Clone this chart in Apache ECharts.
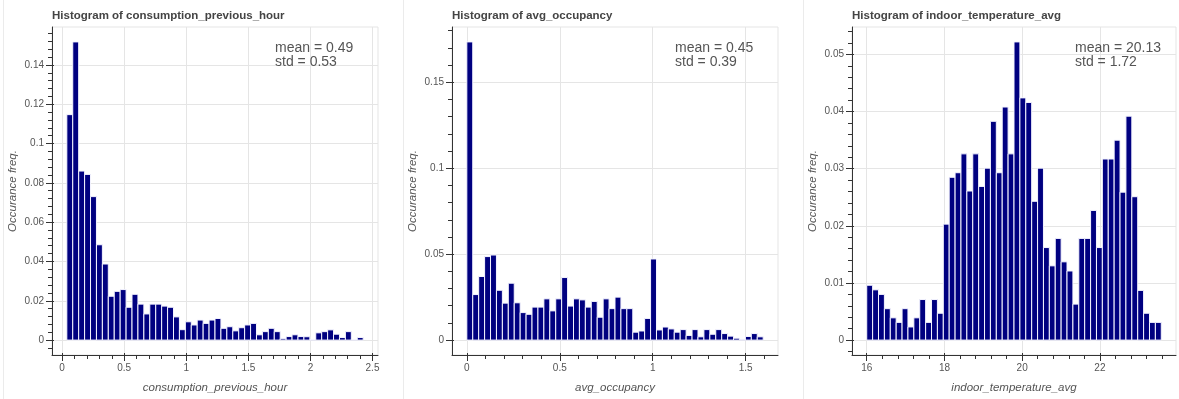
<!DOCTYPE html>
<html>
<head>
<meta charset="utf-8">
<script src="https://cdn.jsdelivr.net/npm/echarts@6/dist/echarts.min.js"></script>
<style>
  html, body { margin: 0; background: #fff; }
  #chart { width: 1179px; height: 399px; }
</style>
</head>
<body>
<div id="chart"></div>
<script>
// histogram heights (fraction of rows), 50 bins per column
const consumptionFreq = [0.1147, 0.1517, 0.086, 0.0843, 0.073, 0.0485, 0.0387, 0.0223, 0.0248, 0.0257,
  0.0167, 0.0233, 0.0183, 0.0133, 0.0183, 0.0183, 0.0173, 0.0167, 0.0118, 0.0053,
  0.0093, 0.0077, 0.0102, 0.0085, 0.0102, 0.011, 0.006, 0.0068, 0.0047, 0.0063,
  0.0077, 0.0085, 0.0027, 0.0043, 0.006, 0.0043, 0.0007, 0.0018, 0.0027, 0.0018,
  0.0017, 0.0003, 0.0037, 0.0043, 0.0052, 0.003, 0.0013, 0.0043, 0.0003, 0.0013];
const occupancyFreq = [0.1735, 0.0265, 0.037, 0.0486, 0.0495, 0.029, 0.0215, 0.0331, 0.0217, 0.016,
  0.015, 0.0192, 0.0192, 0.024, 0.017, 0.024, 0.0364, 0.0198, 0.024, 0.0234,
  0.0192, 0.0225, 0.0133, 0.024, 0.0183, 0.025, 0.0183, 0.0183, 0.0046, 0.0053,
  0.0126, 0.0472, 0.0059, 0.0076, 0.0065, 0.0046, 0.0061, 0.0027, 0.0061, 0.0019,
  0.0061, 0.0034, 0.0061, 0.0038, 0.0023, 0.0011, 0.0004, 0.0021, 0.0038, 0.0019];
const temperatureFreq = [0.0096, 0.0088, 0.008, 0.0055, 0.0039, 0.0031, 0.0055, 0.0023, 0.0039, 0.0071,
  0.0031, 0.0071, 0.0047, 0.0203, 0.0285, 0.0293, 0.0326, 0.0261, 0.0326, 0.0269,
  0.0301, 0.0383, 0.0293, 0.0408, 0.0326, 0.0522, 0.0424, 0.0416, 0.0243, 0.0301,
  0.0162, 0.013, 0.0178, 0.0137, 0.0121, 0.0063, 0.0178, 0.0178, 0.0227, 0.0162,
  0.0317, 0.0317, 0.035, 0.0259, 0.0392, 0.0251, 0.0087, 0.0047, 0.0031, 0.0031];

// left edge of first bin, right edge of last bin
const consumptionBins = [0.038, 2.425];
const occupancyBins = [0, 1.594];
const temperatureBins = [16, 23.58];

const consumptionXTicks = [0, 0.5, 1, 1.5, 2, 2.5];
const consumptionYTicks = [0, 0.02, 0.04, 0.06, 0.08, 0.1, 0.12, 0.14];
const occupancyXTicks = [0, 0.5, 1, 1.5];
const occupancyYTicks = [0, 0.05, 0.1, 0.15];
const temperatureXTicks = [16, 18, 20, 22];
const temperatureYTicks = [0, 0.01, 0.02, 0.03, 0.04, 0.05];

const consumptionStats = ['0.49', '0.53'];
const occupancyStats = ['0.45', '0.39'];
const temperatureStats = ['20.13', '1.72'];

const FONT = 'Liberation Sans, Arial, Helvetica, sans-serif';
const INK = '#333';

const panels = [
  { name: 'consumption_previous_hour', freq: consumptionFreq, bins: consumptionBins,
    xt: consumptionXTicks, yt: consumptionYTicks, xStep: 0.1, yStep: 0.004, stats: consumptionStats, left: 52, width: 326 },
  { name: 'avg_occupancy', freq: occupancyFreq, bins: occupancyBins,
    xt: occupancyXTicks, yt: occupancyYTicks, xStep: 0.1, yStep: 0.01, stats: occupancyStats, left: 452, width: 326 },
  { name: 'indoor_temperature_avg', freq: temperatureFreq, bins: temperatureBins,
    xt: temperatureXTicks, yt: temperatureYTicks, xStep: 0.4, yStep: 0.002, stats: temperatureStats, left: 852, width: 324 }
];

// bokeh style range padding: 5% of the span on each side
function padded(lo, hi) {
  const p = (hi - lo) * 0.05;
  return [lo - p, hi + p];
}

function minorTicks(range, step) {
  const out = [];
  for (let k = Math.ceil(range[0] / step - 1e-9); k * step <= range[1] + 1e-12; k++) {
    out.push(+(k * step).toFixed(6));
  }
  return out;
}

function axisSet(dim, gi, range, major, minor, name) {
  const base = {
    type: 'value', gridIndex: gi, min: range[0], max: range[1],
    position: dim === 'x' ? 'bottom' : 'left',
    axisLine: { show: false, onZero: false },
    axisLabel: { show: false },
    splitLine: { show: false }
  };
  const main = Object.assign({}, base, {
    axisLine: { show: true, onZero: false, lineStyle: { color: INK, width: 1 } },
    axisTick: { show: true, length: 6, customValues: major, lineStyle: { color: INK } },
    axisLabel: { show: true, customValues: major, margin: 8, fontSize: 10, color: '#555', fontFamily: FONT },
    splitLine: { show: true, lineStyle: { color: '#e5e5e5', width: 1 } },
    name: name,
    nameLocation: 'middle',
    nameGap: dim === 'x' ? 27 : 33,
    nameRotate: dim === 'x' ? 0 : 90,
    nameTextStyle: { fontSize: 11.5, fontStyle: 'italic', color: '#555', fontFamily: FONT }
  });
  const minorAxis = Object.assign({}, base, {
    axisTick: { show: true, length: 4, customValues: minor, lineStyle: { color: INK } }
  });
  const innerAxis = Object.assign({}, base, {
    axisTick: { show: true, inside: true, length: 2, customValues: major, lineStyle: { color: INK } }
  });
  return [main, minorAxis, innerAxis];
}

const grids = [], xAxes = [], yAxes = [], series = [], titles = [], graphics = [];

panels.forEach((p, k) => {
  const xRange = padded(p.bins[0], p.bins[1]);
  const yRange = padded(0, Math.max(...p.freq));
  const w = (p.bins[1] - p.bins[0]) / p.freq.length;

  grids.push({ left: p.left, top: 27, width: p.width, height: 334, show: true, borderColor: '#e5e5e5', borderWidth: 1 });
  xAxes.push(...axisSet('x', k, xRange, p.xt, minorTicks(xRange, p.xStep), p.name));
  yAxes.push(...axisSet('y', k, yRange, p.yt, minorTicks(yRange, p.yStep), 'Occurance freq.'));

  series.push({
    type: 'custom',
    xAxisIndex: 3 * k,
    yAxisIndex: 3 * k,
    encode: { x: [0, 1], y: 2 },
    data: p.freq.map((v, i) => [p.bins[0] + i * w, p.bins[0] + (i + 1) * w, v]),
    renderItem: (params, api) => {
      const a = api.coord([api.value(0), 0]);
      const b = api.coord([api.value(1), api.value(2)]);
      return {
        type: 'rect',
        shape: { x: a[0], y: b[1], width: b[0] - a[0], height: a[1] - b[1] },
        style: { fill: '#000080', stroke: '#f4f4ff', lineWidth: 1 }
      };
    }
  });

  titles.push({
    text: 'Histogram of ' + p.name,
    left: p.left, top: 10, padding: 0,
    textStyle: { fontSize: 11.5, fontWeight: 'bold', color: '#444', fontFamily: FONT }
  });

  graphics.push({
    type: 'text', left: p.left + 223, top: 41, z: 100,
    style: { text: 'mean = ' + p.stats[0] + '\nstd = ' + p.stats[1], fontSize: 14, lineHeight: 14, fill: '#555', fontFamily: FONT }
  });
  graphics.push({
    type: 'line', shape: { x1: 3.5 + 400 * k, y1: 0, x2: 3.5 + 400 * k, y2: 399 },
    style: { stroke: '#ebebeb', lineWidth: 1 }, silent: true
  });
});

const myChart = echarts.init(document.getElementById('chart'));
myChart.setOption({
  animation: false,
  backgroundColor: '#fff',
  title: titles,
  grid: grids,
  xAxis: xAxes,
  yAxis: yAxes,
  series: series,
  graphic: graphics
});
</script>
</body>
</html>
